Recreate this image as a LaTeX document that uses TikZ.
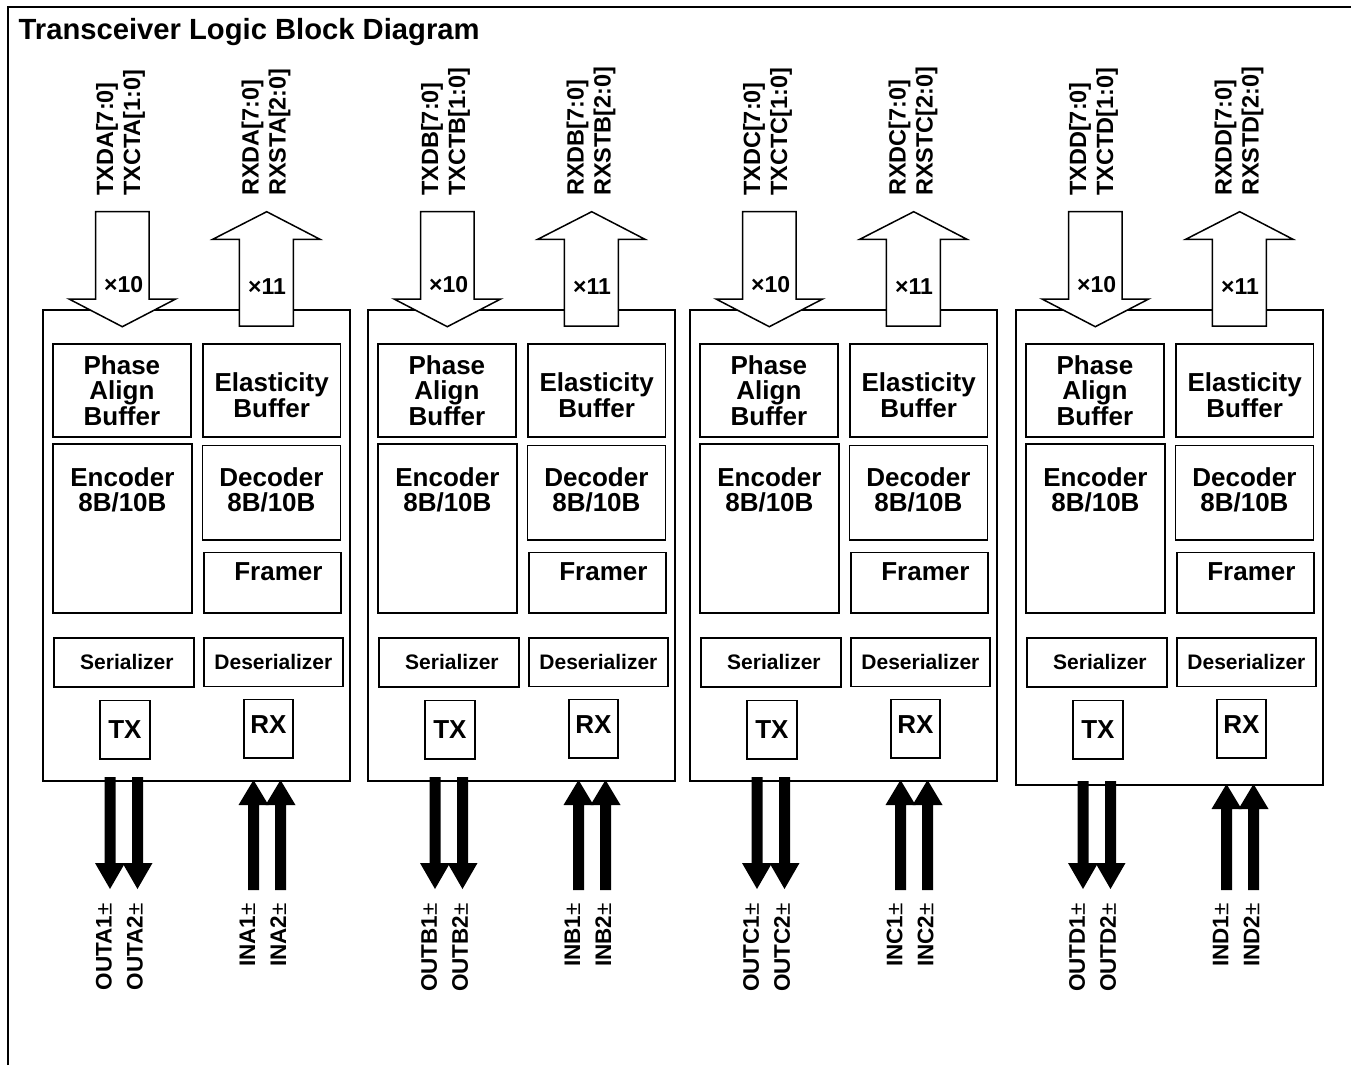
\documentclass[tikz,border=0pt]{standalone}
\usepackage{fontspec}
\setmainfont{Liberation Sans}
\tikzset{
  blk/.style={draw, line width=2pt, inner sep=0pt, anchor=north west},
  sub/.style={draw, line width=1.8pt, inner sep=0pt, anchor=north west},
  lbl/.style={font=\fontsize{26}{25.5}\selectfont\bfseries, align=center, inner sep=0pt},
  small/.style={font=\fontsize{21}{21}\selectfont\bfseries, inner sep=0pt},
  mult/.style={font=\fontsize{23}{23}\selectfont\bfseries, inner sep=0pt},
  sigtop/.style={font=\fontsize{23.5}{27}\selectfont\bfseries, rotate=90, inner sep=0pt, anchor=west, align=left},
  sigbot/.style={font=\fontsize{22.5}{31}\selectfont\bfseries, rotate=90, inner sep=0pt, anchor=east, align=right},
  barrow/.style={draw, line width=1.5pt, fill=white, line join=miter},
  sarrow/.style={fill=black, draw=none},
}
\newcommand\mybox[5]{\node[sub, minimum width=#4pt, minimum height=#5pt] (#1) at (#2,#3) {};}
\begin{document}
\begin{tikzpicture}[x=1pt, y=-1pt]
\useasboundingbox (0,0) rectangle (1351,1065);
\draw[line width=2pt] (8,1065) -- (8,7) -- (1351,7);
\node[anchor=base west, font=\fontsize{29.2}{30}\selectfont\bfseries, inner sep=0pt] (title) at (18.5,40) {Transceiver Logic Block Diagram};
\foreach \L/\c/\bot in {42/A/780, 367/B/780, 689/C/780, 1015/D/784}{
  \pgfmathsetmacro\hh{\bot-309}
  \node[blk, minimum width=307pt, minimum height=\hh pt] (outer\c) at (\L,309) {};
  \mybox{pa\c}{\L+10}{343}{138}{93}
  \mybox{eb\c}{\L+160}{343}{137.5}{93}
  \mybox{en\c}{\L+10}{443}{139}{169}
  \mybox{de\c}{\L+159.5}{444.5}{138}{94.5}
  \mybox{fr\c}{\L+161}{551.5}{137}{60.5}
  \mybox{se\c}{\L+11}{637}{140}{49}
  \mybox{ds\c}{\L+161}{637}{139}{48.5}
  \mybox{tx\c}{\L+57}{699.5}{50}{58.5}
  \mybox{rx\c}{\L+201}{698.5}{49}{58.5}
  \node[lbl] (tpa\c) at (pa\c.center) {Phase\\Align\\Buffer};
  \node[lbl] (teb\c) at ([yshift=-5pt]eb\c.center) {Elasticity\\Buffer};
  \node[lbl, anchor=north] (ten\c) at ([yshift=-24pt]en\c.north) {Encoder\\8B/10B};
  \node[lbl, anchor=north] (tde\c) at ([yshift=-22.5pt]de\c.north) {Decoder\\8B/10B};
  \node[lbl, anchor=north] (tfr\c) at ([xshift=6pt,yshift=-10.5pt]fr\c.north) {Framer};
  \node[small] (tse\c) at ([xshift=3pt]se\c.center) {Serializer};
  \node[small] (tds\c) at (ds\c.center) {Deserializer};
  \node[lbl] (ttx\c) at (tx\c.center) {TX};
  \node[lbl] (trx\c) at ([yshift=4pt]rx\c.center) {RX};
  % wide arrows at the top
  \draw[barrow] (\L+53.7,211.7) -- (\L+107,211.7) -- (\L+107,299) -- (\L+133.7,299) -- (\L+80.3,326.7) -- (\L+27,299) -- (\L+53.7,299) -- cycle;
  \draw[barrow] (\L+224.7,211.7) -- (\L+278,239.3) -- (\L+251.3,239.3) -- (\L+251.3,326) -- (\L+197.3,326) -- (\L+197.3,239.3) -- (\L+170.7,239.3) -- cycle;
  \node[mult] (m10\c) at (\L+81.7,285) {×10};
  \node[mult] (m11\c) at (\L+225,287) {×11};
  \node[sigtop] (stx\c) at (\L+78.5,196) {TXD\c[7:0]\\TXCT\c[1:0]};
  \node[sigtop] (srx\c) at (\L+224,196) {RXD\c[7:0]\\RXST\c[2:0]};
  % serial arrows at the bottom
  \foreach \m in {68,95.5}{
    \fill[sarrow] (\L+\m-5.5,\bot-3) -- (\L+\m+5.5,\bot-3) -- (\L+\m+5.5,863) -- (\L+\m+15,863) -- (\L+\m,889) -- (\L+\m-15,863) -- (\L+\m-5.5,863) -- cycle;
  }
  \foreach \m in {211.5,238.5}{
    \fill[sarrow] (\L+\m,\bot) -- (\L+\m+15,\bot+25) -- (\L+\m+5.5,\bot+25) -- (\L+\m+5.5,890) -- (\L+\m-5.5,890) -- (\L+\m-5.5,\bot+25) -- (\L+\m-15,\bot+25) -- cycle;
  }
  \node[sigbot] (sout\c) at (\L+77.5,903) {OUT\c1{\mdseries ±}\\OUT\c2{\mdseries ±}};
  \node[sigbot] (sin\c) at (\L+221,903) {IN\c1{\mdseries ±}\\IN\c2{\mdseries ±}};
}
\end{tikzpicture}
\end{document}
